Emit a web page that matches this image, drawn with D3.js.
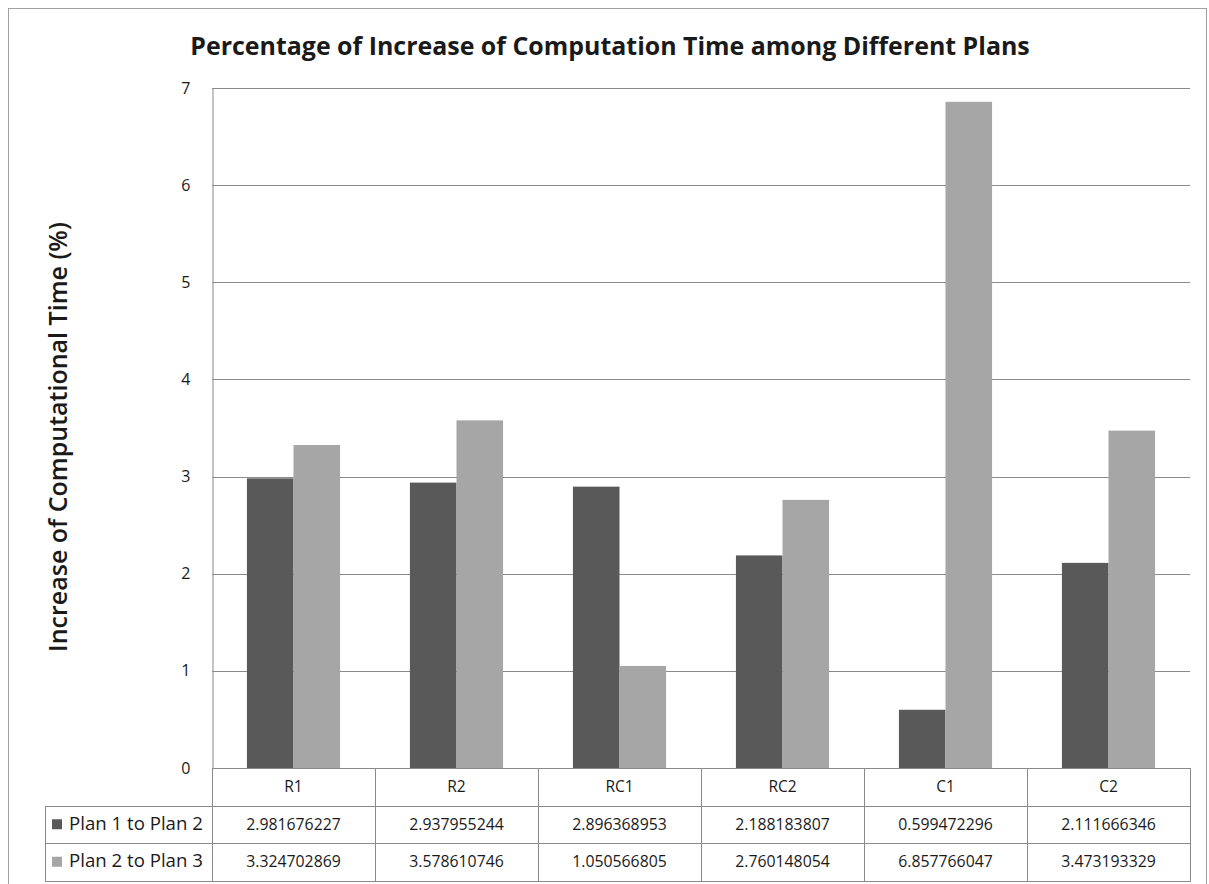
<!DOCTYPE html>
<html>
<head>
<meta charset="utf-8">
<script src="https://cdn.jsdelivr.net/npm/d3@7"></script>
<style>
  html, body { margin: 0; padding: 0; background: #fff; }
  svg { display: block; }
  text { font-family: "Open Sans", Lato, sans-serif; fill: #1a1a1a; }
</style>
</head>
<body>
<svg id="chart" width="1209" height="884"></svg>
<script>
// Chart data
const categories = ["R1", "R2", "RC1", "RC2", "C1", "C2"];
const seriesNames = ["Plan 1 to Plan 2", "Plan 2 to Plan 3"];
const plan1to2 = [2.981676227, 2.937955244, 2.896368953, 2.188183807, 0.599472296, 2.111666346];
const plan2to3 = [3.324702869, 3.578610746, 1.050566805, 2.760148054, 6.857766047, 3.473193329];
const yTicks = [0, 1, 2, 3, 4, 5, 6, 7];

const seriesValues = [plan1to2, plan2to3];
const seriesColors = ["#595959", "#a6a6a6"];
const lineColor = "#8a8a8a";

const svg = d3.select("#chart");

// Shrink or grow a text's font size so that it spans the given width
function fitWidth(sel, width) {
  const node = sel.node();
  const size = parseFloat(sel.style("font-size"));
  const w = node.getComputedTextLength();
  if (w > 0) sel.style("font-size", (size * width / w).toFixed(2) + "px");
  return sel;
}

// Plot area geometry
const plot = { left: 212, right: 1190, top: 88, bottom: 768 };
const rowH = 37.5;
const tableLeft = 45;

const x0 = d3.scaleBand().domain(categories).range([plot.left, plot.right]).padding(0);
const x1 = d3.scaleBand().domain(seriesNames).range([0, x0.bandwidth()])
  .paddingInner(0).paddingOuter(0.75);
const y = d3.scaleLinear().domain([0, 7]).range([plot.bottom, plot.top]);

// Outer chart frame
svg.append("rect")
  .attr("x", 8.5).attr("y", 8.5).attr("width", 1198).attr("height", 880)
  .attr("fill", "none").attr("stroke", "#a0a0a0").attr("stroke-width", 1);

// Title
const title = svg.append("text")
  .attr("x", 610).attr("y", 55)
  .attr("text-anchor", "middle")
  .style("font-size", "22px").style("font-weight", "bold")
  .text("Percentage of Increase of Computation Time among Different Plans");
fitWidth(title, 840);

// Axis title
const yTitle = svg.append("text")
  .attr("transform", "translate(67,437) rotate(-90)")
  .attr("text-anchor", "middle")
  .style("font-size", "21px").style("font-weight", "600")
  .text("Increase of Computational Time (%)");
fitWidth(yTitle, 430);

// Gridlines
svg.append("g").selectAll("line")
  .data(yTicks.filter(t => t > 0))
  .join("line")
  .attr("x1", plot.left).attr("x2", plot.right)
  .attr("y1", d => Math.round(y(d)) + 0.5).attr("y2", d => Math.round(y(d)) + 0.5)
  .attr("stroke", lineColor).attr("stroke-width", 1);

// Y axis with tick labels
const yAxis = d3.axisLeft(y).tickValues(yTicks).tickSize(0).tickPadding(22).tickFormat(d3.format("d"));
const gy = svg.append("g").attr("transform", `translate(${plot.left + 0.5},0)`).call(yAxis);
gy.select(".domain").attr("stroke", lineColor);
gy.selectAll("text").style("font-size", "16px").style("font-family", "'Open Sans', sans-serif").attr("fill", "#1a1a1a");

// Bars
const groups = svg.append("g").selectAll("g")
  .data(categories)
  .join("g")
  .attr("transform", d => `translate(${x0(d)},0)`);

groups.selectAll("rect")
  .data((c, i) => seriesNames.map((s, k) => ({ s, k, v: seriesValues[k][i] })))
  .join("rect")
  .attr("x", d => x1(d.s))
  .attr("width", x1.bandwidth())
  .attr("y", d => y(d.v))
  .attr("height", d => y(0) - y(d.v))
  .attr("fill", d => seriesColors[d.k]);

// Data table
const table = svg.append("g");
const rowsY = [plot.bottom, plot.bottom + rowH, plot.bottom + 2 * rowH, plot.bottom + 3 * rowH];

// horizontal rules
table.append("line")
  .attr("x1", plot.left).attr("x2", plot.right)
  .attr("y1", rowsY[0] + 0.5).attr("y2", rowsY[0] + 0.5)
  .attr("stroke", lineColor);
[1, 2, 3].forEach(r => {
  table.append("line")
    .attr("x1", tableLeft).attr("x2", plot.right)
    .attr("y1", Math.round(rowsY[r]) + 0.5).attr("y2", Math.round(rowsY[r]) + 0.5)
    .attr("stroke", lineColor);
});
// vertical rules
table.append("line")
  .attr("x1", tableLeft + 0.5).attr("x2", tableLeft + 0.5)
  .attr("y1", Math.round(rowsY[1])).attr("y2", Math.round(rowsY[3]) + 1)
  .attr("stroke", lineColor);
categories.forEach((c, i) => {
  const xx = Math.round(x0(c) + x0.bandwidth()) + 0.5;
  table.append("line")
    .attr("x1", xx).attr("x2", xx)
    .attr("y1", rowsY[0]).attr("y2", Math.round(rowsY[3]) + 1)
    .attr("stroke", lineColor);
});
table.append("line")
  .attr("x1", plot.left + 0.5).attr("x2", plot.left + 0.5)
  .attr("y1", rowsY[0]).attr("y2", Math.round(rowsY[3]) + 1)
  .attr("stroke", lineColor);

// category header
table.selectAll("text.cat")
  .data(categories)
  .join("text")
  .attr("class", "cat")
  .attr("x", d => x0(d) + x0.bandwidth() / 2)
  .attr("y", rowsY[0] + rowH / 2 + 5.5)
  .attr("text-anchor", "middle")
  .style("font-size", "15.5px")
  .text(d => d);

// series rows
seriesNames.forEach((s, k) => {
  const ry = rowsY[k + 1];
  table.append("rect")
    .attr("x", 52).attr("y", ry + rowH / 2 - 5)
    .attr("width", 10).attr("height", 10)
    .attr("fill", seriesColors[k]);
  const lab = table.append("text")
    .attr("x", 69).attr("y", ry + rowH / 2 + 5.5)
    .style("font-size", "15px")
    .text(s);
  fitWidth(lab, 134);
  table.selectAll(null)
    .data(seriesValues[k])
    .join("text")
    .attr("x", (d, i) => x0(categories[i]) + x0.bandwidth() / 2)
    .attr("y", ry + rowH / 2 + 5.5)
    .attr("text-anchor", "middle")
    .style("font-size", "15.8px")
    .text(d => d.toFixed(9));
});
</script>
</body>
</html>
